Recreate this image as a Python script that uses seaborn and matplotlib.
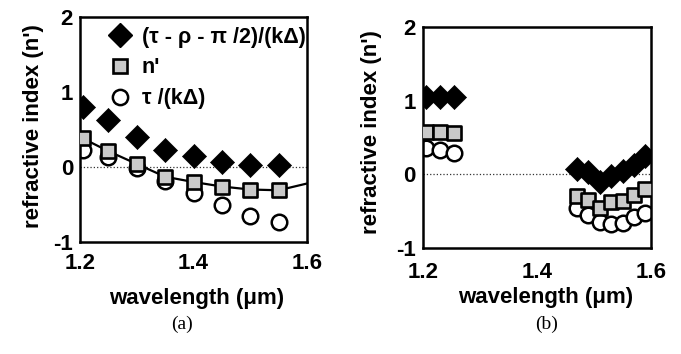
import matplotlib
matplotlib.use("Agg")
import matplotlib.pyplot as plt
import seaborn as sns
from matplotlib.lines import Line2D

sns.set_style("white")
plt.rcParams["font.family"] = ["Liberation Sans", "DejaVu Sans"]
plt.rcParams["text.color"] = "black"
plt.rcParams["axes.labelcolor"] = "black"
plt.rcParams["xtick.color"] = "black"
plt.rcParams["ytick.color"] = "black"

# panel (a)
wl_a = [1.205, 1.25, 1.30, 1.35, 1.40, 1.45, 1.50, 1.55]
phase_a = [0.80, 0.62, 0.40, 0.23, 0.14, 0.07, 0.03, 0.03]
n_a = [0.38, 0.21, 0.04, -0.13, -0.20, -0.26, -0.30, -0.31]
tau_a = [0.22, 0.13, -0.01, -0.19, -0.34, -0.50, -0.65, -0.73]
fit_x_a = [1.205, 1.25, 1.30, 1.35, 1.40, 1.45, 1.50, 1.55, 1.60]
fit_y_a = [0.38, 0.21, 0.04, -0.13, -0.20, -0.26, -0.30, -0.31, -0.22]

# panel (b)
wl_b = [1.205, 1.23, 1.255, 1.47, 1.49, 1.51, 1.53, 1.55, 1.57, 1.59]
phase_b = [1.05, 1.05, 1.05, 0.07, 0.03, -0.10, -0.02, 0.05, 0.13, 0.25]
n_b = [0.58, 0.58, 0.56, -0.30, -0.35, -0.46, -0.37, -0.36, -0.28, -0.20]
tau_b = [0.36, 0.33, 0.29, -0.46, -0.55, -0.65, -0.67, -0.66, -0.58, -0.52]

xticks = [1.2, 1.4, 1.6]
yticks = [-1, 0, 1, 2]
lab_phase = "(τ - ρ - π /2)/(kΔ)"
lab_n = "n'"
lab_tau = "τ /(kΔ)"

FS = 16
WT = "bold"
sq_face = "#c9c9c9"


def draw_panel(ax, wl, phase, n, tau, fit_x=None, fit_y=None, xpad=8):
    ax.axhline(0, color="#333333", lw=0.9, ls=":", zorder=1)
    sns.scatterplot(x=wl, y=tau, marker="o", s=125, color="white",
                    edgecolor="black", linewidth=1.8, ax=ax, zorder=2)
    if fit_x is not None:
        sns.lineplot(x=fit_x, y=fit_y, color="black", lw=1.6, ax=ax,
                     zorder=2.5, sort=False)
    sns.scatterplot(x=wl, y=n, marker="s", s=100, color=sq_face,
                    edgecolor="black", linewidth=1.9, ax=ax, zorder=3)
    sns.scatterplot(x=wl, y=phase, marker="D", s=150, color="black",
                    edgecolor="black", linewidth=0.5, ax=ax, zorder=4)
    ax.set_xlim(1.2, 1.6)
    ax.set_ylim(-1, 2)
    ax.set_xticks(xticks)
    ax.set_xticklabels(["1.2", "1.4", "1.6"], fontweight=WT)
    ax.set_yticks(yticks)
    ax.set_yticklabels(["-1", "0", "1", "2"], fontweight=WT)
    ax.tick_params(length=0, labelsize=FS)
    ax.tick_params(axis="x", pad=xpad)
    ax.tick_params(axis="y", pad=5)
    for sp in ax.spines.values():
        sp.set_visible(True)
        sp.set_color("black")
        sp.set_linewidth(1.8)
    ax.set_xlabel("wavelength (μm)", fontsize=FS, fontweight=WT)
    ax.set_ylabel("refractive index (n')", fontsize=FS, fontweight=WT)


fig = plt.figure(figsize=(6.81, 3.54), dpi=100)
ax_a = fig.add_axes([0.1175, 0.316, 0.3333, 0.637])
ax_b = fig.add_axes([0.621, 0.2994, 0.335, 0.6243])

draw_panel(ax_a, wl_a, phase_a, n_a, tau_a, fit_x_a, fit_y_a, xpad=8)
draw_panel(ax_b, wl_b, phase_b, n_b, tau_b, xpad=10)

ax_a.xaxis.set_label_coords(0.515, -0.205)
ax_a.yaxis.set_label_coords(-0.16, 0.516)
ax_b.xaxis.set_label_coords(0.54, -0.175)
ax_b.yaxis.set_label_coords(-0.18, 0.525)

handles = [
    Line2D([], [], ls="", marker="D", ms=12, color="black"),
    Line2D([], [], ls="", marker="s", ms=10, mfc=sq_face, mec="black", mew=1.9),
    Line2D([], [], ls="", marker="o", ms=11, mfc="white", mec="black", mew=1.8),
]
ax_a.legend(handles, [lab_phase, lab_n, lab_tau], loc="upper left",
            bbox_to_anchor=(0.13, 0.955), frameon=False,
            prop={"size": 15.5, "weight": WT},
            handlelength=1.0, handletextpad=0.5, labelspacing=0.45,
            borderpad=0, borderaxespad=0)

fig.text(0.267, 0.085, "(a)", ha="center", va="center", fontsize=14,
         family="Liberation Serif")
fig.text(0.803, 0.084, "(b)", ha="center", va="center", fontsize=14,
         family="Liberation Serif")

fig.savefig("out.png", dpi=100)
